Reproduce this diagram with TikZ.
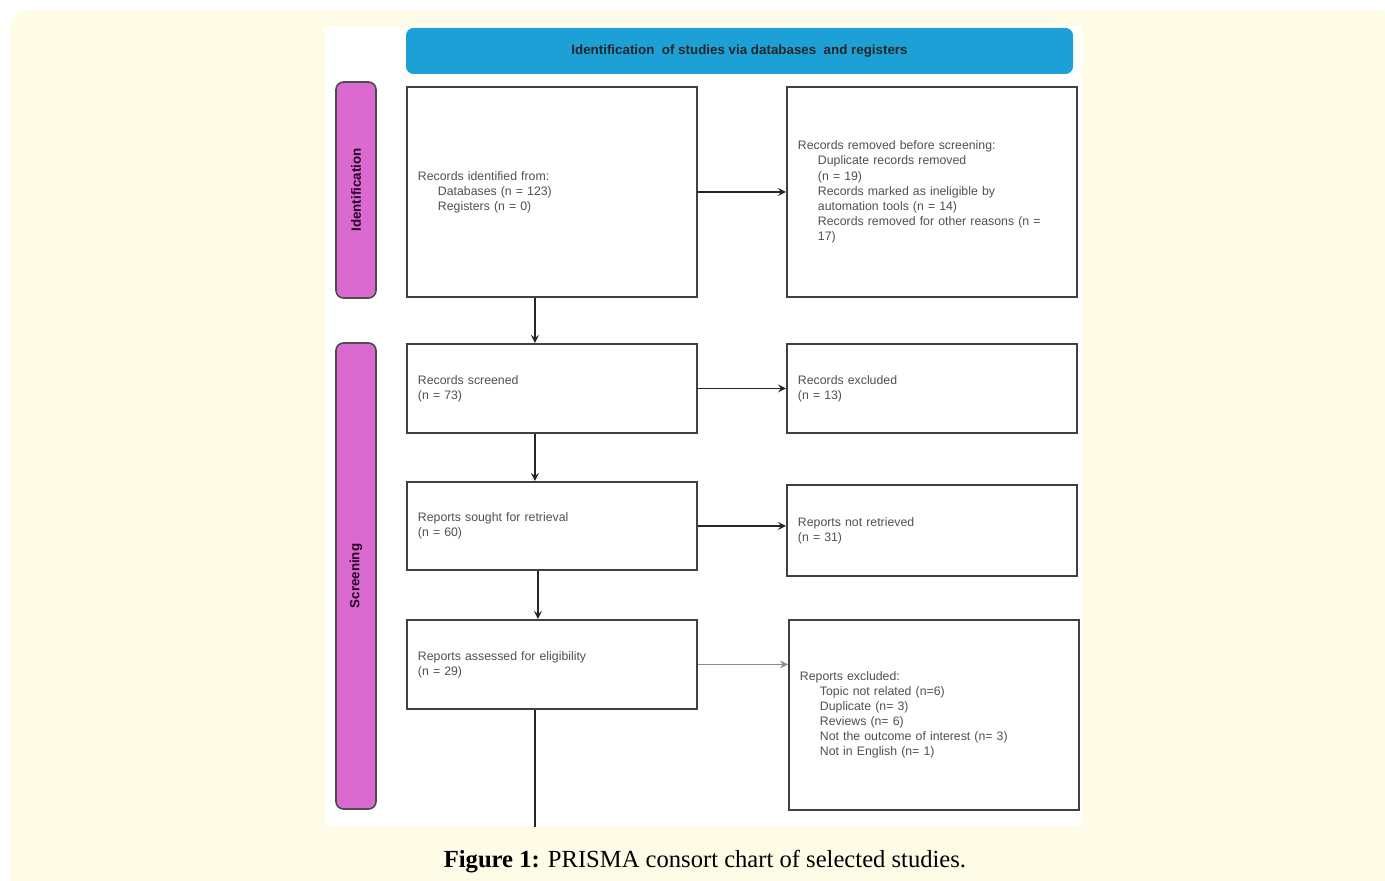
\documentclass[tikz,border=0pt]{standalone}
\usepackage{fontspec}
\setmainfont{Liberation Serif}
\setsansfont{Liberation Sans}
\usetikzlibrary{arrows, positioning, shapes.misc}

\definecolor{cream}{HTML}{FEFBE7}
\definecolor{headblue}{HTML}{1DA0D6}
\definecolor{sidepink}{HTML}{DA6AD0}
\definecolor{boxtext}{HTML}{505050}

\begin{document}
\begin{tikzpicture}[
    flowbox/.style={rectangle, draw=black!75, line width=1.1pt, fill=white, minimum width=5.8cm, text width=5.36cm, inner xsep=0.22cm, align=left, anchor=north west, font=\sffamily\fontsize{7}{8.6}\selectfont, text=boxtext},
    sidebar/.style={rectangle, rounded corners=0.15cm, draw=black!70, line width=0.9pt, fill=sidepink, minimum width=0.8cm, text=black!70!violet, font=\sffamily\bfseries\fontsize{7.6}{8}\selectfont},
    header/.style={rectangle, rounded corners=0.15cm, fill=headblue, minimum width=13.34cm, minimum height=0.92cm, font=\sffamily\bfseries\fontsize{7.6}{8}\selectfont, text=black!85},
    flow/.style={draw=black!85, line width=1pt, -stealth}
]

% Page and panel
\useasboundingbox (0,0) rectangle (27.7,-17.62);
\fill[cream, rounded corners=0.4cm] (0.2,-0.2) rectangle (27.9,-17.9);
\fill[white] (6.5,-0.54) rectangle (21.64,-16.52);

% Header
\node[header] (head) at (14.79,-1.02) {Identification\ \ of studies via databases\ \ and registers};

% Phase bars
\node[sidebar, minimum height=4.32cm] (ident) at (7.12,-3.8) {\rotatebox{90}{Identification}};
\node[sidebar, minimum height=9.32cm] (screen) at (7.12,-11.52) {\rotatebox{90}{Screening}};

% Left column
\node[flowbox, minimum height=4.2cm] (identified) at (8.12,-1.72) {Records identified from:\\
\hspace*{0.4cm}Databases (n = 123)\\
\hspace*{0.4cm}Registers (n = 0)};
\node[flowbox, minimum height=1.78cm] (screened) at (8.12,-6.86) {Records screened\\(n = 73)};
\node[flowbox, minimum height=1.76cm] (sought) at (8.12,-9.62) {Reports sought for retrieval\\(n = 60)};
\node[flowbox, minimum height=1.78cm] (assessed) at (8.12,-12.38) {Reports assessed for eligibility\\(n = 29)};

% Right column
\node[flowbox, minimum height=4.2cm, minimum width=5.76cm] (removed) at (15.72,-1.72) {Records removed before screening:\\
\hspace*{0.4cm}Duplicate records removed\\
\hspace*{0.4cm}(n = 19)\\
\hspace*{0.4cm}Records marked as ineligible by\\
\hspace*{0.4cm}automation tools (n = 14)\\
\hspace*{0.4cm}Records removed for other reasons (n =\\
\hspace*{0.4cm}17)};
\node[flowbox, minimum height=1.78cm] (excluded) at (15.72,-6.86) {Records excluded\\(n = 13)};
\node[flowbox, minimum height=1.82cm] (notretrieved) at (15.72,-9.68) {Reports not retrieved\\(n = 31)};
\node[flowbox, minimum height=3.8cm] (repexcluded) at (15.76,-12.38) {Reports excluded:\\
\hspace*{0.4cm}Topic not related (n=6)\\
\hspace*{0.4cm}Duplicate (n= 3)\\
\hspace*{0.4cm}Reviews (n= 6)\\
\hspace*{0.4cm}Not the outcome of interest (n= 3)\\
\hspace*{0.4cm}Not in English (n= 1)};

% Side arrows
\draw[flow] (identified.east) -- (identified.east -| removed.west);
\draw[flow] (screened.east) -- (screened.east -| excluded.west);
\draw[flow] (sought.east) -- (sought.east -| notretrieved.west);
\draw[flow, draw=black!45] (assessed.east) -- (assessed.east -| repexcluded.west);

% Down arrows
\draw[flow] ([xshift=-0.34cm]identified.south) -- ([xshift=-0.34cm]screened.north);
\draw[flow] ([xshift=-0.34cm]screened.south) -- ([xshift=-0.34cm]sought.north);
\draw[flow] ([xshift=-0.28cm]sought.south) -- ([xshift=-0.28cm]assessed.north);
\coordinate (tail) at ([xshift=-0.34cm, yshift=-2.34cm]assessed.south);
\draw[draw=black!85, line width=1pt] ([xshift=-0.34cm]assessed.south) -- (tail);

% Caption
\node[font=\fontsize{14}{16}\selectfont] (caption) at (14.1,-17.24) {\textbf{Figure 1:} PRISMA consort chart of selected studies.};

\end{tikzpicture}
\end{document}
